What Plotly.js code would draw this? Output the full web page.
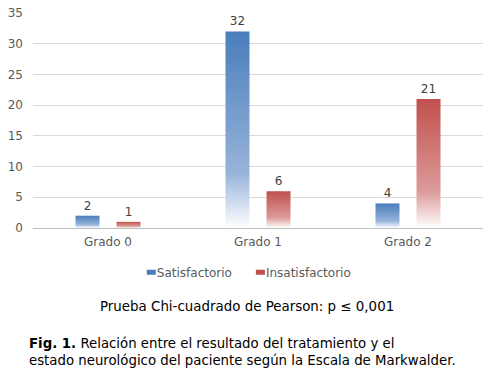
<!DOCTYPE html>
<html>
<head>
<meta charset="utf-8">
<script src="https://cdn.plot.ly/plotly-3.0.1.min.js"></script>
<style>html,body{margin:0;padding:0;background:#fff;}#chart{width:488px;height:377px;}</style>
</head>
<body>
<div id="chart"></div>
<script>
const categories = ["Grado 0", "Grado 1", "Grado 2"];
const satisfactorio = [2, 32, 4];
const insatisfactorio = [1, 6, 21];
const seriesNames = ["Satisfactorio", "Insatisfactorio"];
const yTicks = [0, 5, 10, 15, 20, 25, 30, 35];
const pearsonText = "Prueba Chi-cuadrado de Pearson: p \u2264 0,001";
const captionText = "<b>Fig. 1.</b> Relación entre el resultado del tratamiento y el<br>estado neurológico del paciente según la Escala de Markwalder.";

const FONT = "DejaVu Sans, Verdana, sans-serif";
const BLUE = "#4A7EBB", RED = "#C0504D";

const mk = (name, vals, color) => ({
  type: "bar", name: name, x: categories, y: vals,
  marker: {color: color},
  text: vals.map(String), textposition: "outside", cliponaxis: false,
  textfont: {family: FONT, size: 12, color: "#404040"},
  hoverinfo: "skip"
});

const data = [mk(seriesNames[0], satisfactorio, BLUE), mk(seriesNames[1], insatisfactorio, RED)];

const layout = {
  width: 488, height: 377,
  margin: {l: 33, r: 5, t: 13, b: 149},
  paper_bgcolor: "#fff", plot_bgcolor: "#fff",
  font: {family: FONT, size: 12, color: "#595959"},
  bargap: 0.453, bargroupgap: 0.415,
  showlegend: true,
  legend: {orientation: "h", x: 0.464, xanchor: "center", y: -0.138, yanchor: "top",
           font: {family: FONT, size: 12, color: "#595959"}, itemwidth: 30, tracegroupgap: 0},
  xaxis: {showline: true, linecolor: "#BFBFBF", linewidth: 1, ticks: "", showgrid: false,
          ticklabelstandoff: 3,
          tickfont: {family: FONT, size: 12, color: "#595959"}},
  yaxis: {range: [0, 35], tickvals: yTicks, showgrid: true, gridcolor: "#D9D9D9", zeroline: false,
          showline: false, ticks: "", ticklabelstandoff: 9,
          tickfont: {family: FONT, size: 12, color: "#595959"}},
  annotations: [
    {text: pearsonText, xref: "paper", yref: "paper", x: 0.4756, xanchor: "center",
     y: -0.366, yanchor: "middle", showarrow: false, font: {family: FONT, size: 13.4, color: "#000"}},
    {text: captionText, xref: "paper", yref: "paper", x: -0.013, xanchor: "left", align: "left",
     y: -0.493, yanchor: "top", showarrow: false, font: {family: FONT, size: 13.3, color: "#000"}}
  ]
};

Plotly.newPlot("chart", data, layout, {displayModeBar: false, staticPlot: true}).then(gd => {
  const svg = gd.querySelector(".main-svg");
  const NS = "http://www.w3.org/2000/svg";
  let defs = svg.querySelector("defs");
  if (!defs) { defs = document.createElementNS(NS, "defs"); svg.insertBefore(defs, svg.firstChild); }
  const addGrad = (id, c, mid) => {
    const g = document.createElementNS(NS, "linearGradient");
    g.setAttribute("id", id); g.setAttribute("x1", "0"); g.setAttribute("y1", "0");
    g.setAttribute("x2", "0"); g.setAttribute("y2", "1");
    [[0, c], [0.72, mid], [1, "#ffffff"]].forEach(([o, col]) => {
      const s = document.createElementNS(NS, "stop");
      s.setAttribute("offset", o); s.setAttribute("stop-color", col); g.appendChild(s);
    });
    defs.appendChild(g);
  };
  addGrad("gBlue", BLUE, "#97B3DA");
  addGrad("gRed", RED, "#DC9B99");
  gd.querySelectorAll(".barlayer .trace").forEach((t, i) => {
    t.querySelectorAll(".point path").forEach(p => { p.style.fill = i === 0 ? "url(#gBlue)" : "url(#gRed)"; });
  });
  // compact legend swatches, placed right before the text
  const items = gd.querySelectorAll(".legend .traces");
  items.forEach((it, i) => {
    it.querySelectorAll(".legendpoints path").forEach(p => {
      p.setAttribute("d", "M-4.5,2.5H4.5V-2.5H-4.5Z");
      p.setAttribute("transform", "translate(34.5,0)");
    });
    if (i > 0) {
      const tr = it.getAttribute("transform") || "";
      const m = tr.match(/translate\(([-\d.]+)[ ,]+([-\d.]+)\)/);
      if (m) it.setAttribute("transform", `translate(${parseFloat(m[1]) - 11 * i},${m[2]})`);
    }
  });
});
</script>
</body>
</html>
